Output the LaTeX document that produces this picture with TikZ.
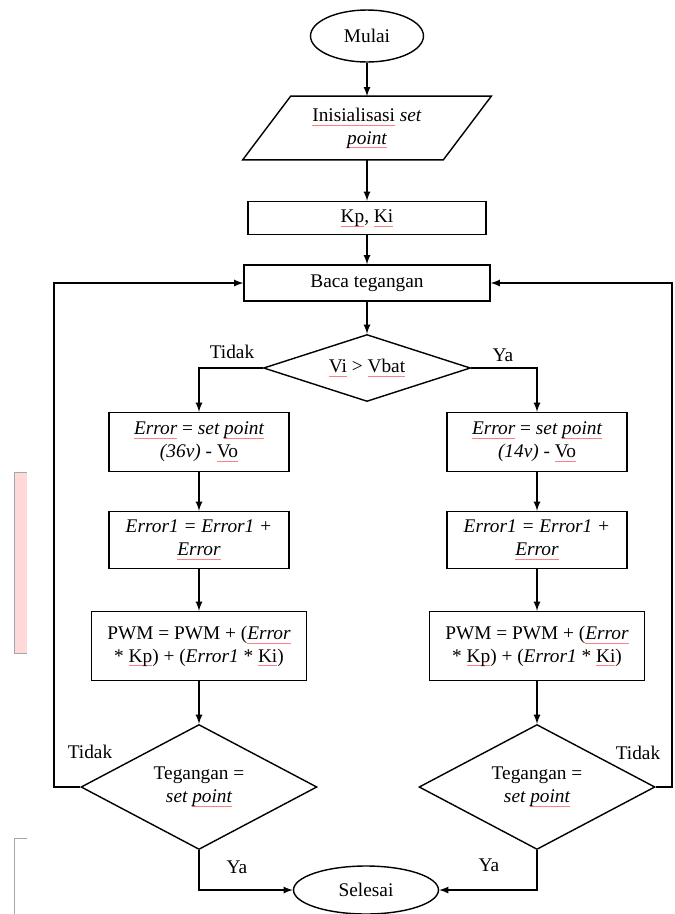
\documentclass[tikz,border=0pt]{standalone}
\usepackage{fontspec}
\setmainfont{Liberation Serif}
\usepackage{xcolor}
\usetikzlibrary{shapes.geometric}
\usetikzlibrary{calc}

% spell-check underline (red line under a word)
\newcommand{\spl}[1]{\leavevmode\setbox0\hbox{#1}\rlap{\color{red!50}\raisebox{-2.4pt}{\rule{\wd0}{0.45pt}}}\box0\relax}

\begin{document}
\begin{tikzpicture}[x=0.02cm, y=-0.02cm, >=latex]
        % ================= styles =================
        \tikzset{
            % terminal: ellipse
            term/.style={ellipse, draw=black, line width=0.8pt, fill=white, inner sep=0pt, font=\fontsize{11}{13}\selectfont},
            % input: text box, the slanted outline is drawn round it
            io/.style={rectangle, inner sep=0pt, align=center, font=\fontsize{11}{13}\selectfont},
            % process box
            proc/.style={rectangle, draw=black, line width=0.8pt, fill=white, inner sep=0pt, align=center, font=\fontsize{11}{13}\selectfont},
            % decision
            deci/.style={diamond, draw=black, line width=0.8pt, fill=white, inner sep=0pt, aspect=1.9, align=center, font=\fontsize{11}{13}\selectfont},
            % connector
            flow/.style={->, line width=0.8pt},
            % branch label
            lbl/.style={inner sep=0pt, font=\fontsize{11}{13}\selectfont}
        }

        \useasboundingbox (0,0) rectangle (674,914);

        % ================= margin marks of the page =================
        \fill[red!15] (14,472) rectangle (27,653);
        \draw[gray!70] (27,472) -- (14,472) -- (14,653) -- (27,653);
        \draw[gray!70] (27,838) -- (14,838) -- (14,914);

        % ================= main column =================
        \node[term, minimum width=2.26cm, minimum height=1.04cm] (mulai) at (367,36) {Mulai};
        \node[io, minimum width=4cm, minimum height=1.26cm] (init) at (367,128) {\spl{Inisialisasi} \textit{set}\\\textit{\spl{point}}};
        \draw[line width=0.8pt] ($(init.south west)+(-24,0)$) -- ($(init.north west)+(24,0)$)
            -- ($(init.north east)+(24,0)$) -- ($(init.south east)+(-24,0)$) -- cycle;
        \node[proc, minimum width=4.76cm, minimum height=0.66cm] (kp) at (367,218) {\spl{Kp}, \spl{Ki}};
        \node[proc, minimum width=4.92cm, minimum height=0.72cm] (baca) at (367,283) {Baca tegangan};
        \node[deci, aspect=3, minimum width=4.14cm, minimum height=1.34cm] (cek) at (367,368) {\spl{Vi} > \spl{Vbat}};
        \node[term, minimum width=2.9cm, minimum height=0.96cm] (selesai) at (366,890) {Selesai};

        \draw[flow] (mulai) -- (init);
        \draw[flow] (init) -- (kp);
        \draw[flow] (kp) -- (baca);
        \draw[flow] (baca) -- (cek);

        % ================= two branches: L = 36v, R = 14v =================
        \foreach \side/\cx/\volt in {L/199/36, R/537/14} {
            \node[proc, minimum width=3.6cm, minimum height=1.18cm] (err\side) at (\cx,442) {\textit{\spl{Error}} = \textit{set \spl{point}}\\\textit{(\volt v)} - \spl{Vo}};
            \node[proc, minimum width=3.6cm, minimum height=1.14cm] (sum\side) at (\cx,540) {\textit{Error1 = Error1 +}\\\textit{\spl{Error}}};
            \node[proc, minimum width=4.3cm, minimum height=1.38cm] (pwm\side) at (\cx,646) {PWM = PWM + (\textit{\spl{Error}}\\{}* \spl{Kp}) + (\textit{Error1} * \spl{Ki})};
            \node[deci, minimum width=4.72cm, minimum height=2.5cm] (teg\side) at (\cx,787) {Tegangan =\\\textit{set \spl{point}}};

            \draw[flow] (err\side) -- (sum\side);
            \draw[flow] (sum\side) -- (pwm\side);
            \draw[flow] (pwm\side) -- (teg\side);
        }

        \draw[flow] (cek.west) -| (errL.north);
        \draw[flow] (cek.east) -| (errR.north);
        \draw[flow] (tegL.south) |- (selesai.west);
        \draw[flow] (tegR.south) |- (selesai.east);

        % ================= loops back to Baca tegangan =================
        \coordinate (backL) at (54,787);
        \coordinate (backR) at (672,787);
        \draw[flow] (tegL.west) -- (backL) |- (baca.west);
        \draw[flow] (tegR.east) -- (backR) |- (baca.east);

        % ================= branch labels =================
        \node[lbl] (tidakA) at (232,352) {Tidak};
        \node[lbl] (yaA) at (503,355) {Ya};
        \node[lbl] (tidakL) at (90,752) {Tidak};
        \node[lbl] (tidakR) at (638,753) {Tidak};
        \node[lbl] (yaL) at (237,867) {Ya};
        \node[lbl] (yaR) at (489,865) {Ya};

    \end{tikzpicture}
\end{document}
